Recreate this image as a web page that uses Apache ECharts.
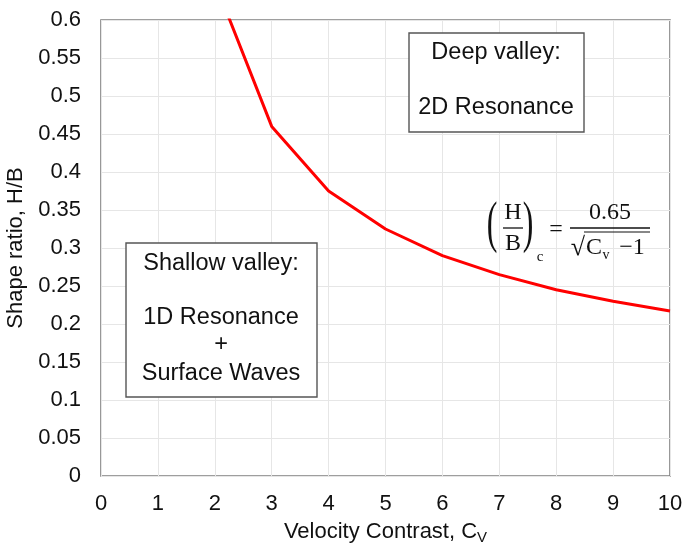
<!DOCTYPE html>
<html>
<head>
<meta charset="utf-8">
<script src="https://cdn.jsdelivr.net/npm/echarts@6/dist/echarts.min.js"></script>
<style>
  html, body { margin: 0; padding: 0; background: #fff; }
  #chart { width: 683px; height: 547px; }
</style>
</head>
<body>
<div id="chart"></div>
<script>
// Critical shape ratio versus velocity contrast
const velocityContrast = [2, 3, 4, 5, 6, 7, 8, 9, 10];
const shapeRatio = [0.65, 0.46, 0.375, 0.325, 0.29, 0.265, 0.245, 0.23, 0.217];

const xTicks = { min: 0, max: 10, interval: 1 };
const yTicks = { min: 0, max: 0.6, interval: 0.05 };

const FONT = '"Liberation Sans", Arial, sans-serif';
const SERIF = '"Liberation Serif", "Times New Roman", serif';

const chart = echarts.init(document.getElementById('chart'));

// Helpers for the formula glyphs
function t(x, y, text, size, extra) {
  return Object.assign({
    type: 'text', x: x, y: y, z: 20,
    style: { text: text, font: size + 'px ' + SERIF, fill: '#111',
      align: 'center', verticalAlign: 'middle' }
  }, extra || {});
}
function line(x1, y1, x2, y2, w) {
  return { type: 'line', z: 20, shape: { x1: x1, y1: y1, x2: x2, y2: y2 },
    style: { stroke: '#111', lineWidth: w || 1.3 } };
}

const boxText = (x, y, text) => ({
  type: 'text', x: x, y: y, z: 20,
  style: { text: text, font: '23.5px ' + FONT, fill: '#111', align: 'center', verticalAlign: 'middle' }
});

chart.setOption({
  animation: false,
  backgroundColor: '#fff',
  grid: {
    left: 101, right: 13, top: 20, bottom: 71,
    containLabel: false,
    outerBoundsMode: 'none',
    show: true, borderColor: '#7f7f7f', borderWidth: 1.6
  },
  xAxis: {
    type: 'value',
    min: xTicks.min, max: xTicks.max, interval: xTicks.interval,
    axisLine: { show: false },
    axisTick: { show: false },
    splitLine: { show: true, lineStyle: { color: '#e6e6e6', width: 1 } },
    axisLabel: { color: '#111', fontSize: 22, fontFamily: FONT, margin: 17 },
    name: 'Velocity Contrast, C{sub|V}',
    nameLocation: 'middle',
    nameGap: 43,
    nameTextStyle: {
      color: '#111', fontSize: 22, fontFamily: FONT,
      rich: { sub: { fontSize: 15, fontFamily: FONT, color: '#111', padding: [11, 0, 0, 0] } }
    }
  },
  yAxis: {
    type: 'value',
    min: yTicks.min, max: yTicks.max, interval: yTicks.interval,
    axisLine: { show: false },
    axisTick: { show: false },
    splitLine: { show: true, lineStyle: { color: '#e6e6e6', width: 1 } },
    axisLabel: { color: '#111', fontSize: 22, fontFamily: FONT, margin: 20,
      formatter: v => String(Math.round(v * 100) / 100) },
    name: 'Shape ratio, H/B',
    nameLocation: 'middle',
    nameGap: 67,
    nameTextStyle: { color: '#111', fontSize: 22, fontFamily: FONT }
  },
  series: [{
    type: 'line',
    data: velocityContrast.map((v, i) => [v, shapeRatio[i]]),
    showSymbol: false,
    clip: true,
    lineStyle: { color: '#ff0000', width: 3 },
    z: 5
  }],
  graphic: [
    // Deep valley box
    { type: 'rect', z: 15, shape: { x: 409, y: 33, width: 175, height: 99 },
      style: { fill: '#fff', stroke: '#555', lineWidth: 1.4 } },
    boxText(496, 53, 'Deep valley:'),
    boxText(496, 108, '2D Resonance'),
    // Shallow valley box
    { type: 'rect', z: 15, shape: { x: 126, y: 243, width: 191, height: 154 },
      style: { fill: '#fff', stroke: '#555', lineWidth: 1.4 } },
    boxText(221, 264, 'Shallow valley:'),
    boxText(221, 318, '1D Resonance'),
    boxText(221, 345, '+'),
    boxText(221, 374, 'Surface Waves'),
    // Formula (H/B)_c = 0.65 / sqrt(Cv - 1); tall thin brackets are narrowed glyphs
    t(492, 226, '(', 58, { scaleX: 0.55, originX: 0, originY: 0 }),
    t(528, 226, ')', 58, { scaleX: 0.55, originX: 0, originY: 0 }),
    t(513, 213, 'H', 24),
    line(503, 228, 523, 228),
    t(513, 244, 'B', 24),
    t(540, 257, 'c', 15),
    t(556, 230, '=', 24),
    t(610, 213, '0.65', 24),
    line(570, 228, 650, 228),
    t(578, 248, '\u221A', 26),
    line(584, 232, 650, 232, 1.2),
    t(594, 248, 'C', 24),
    t(606, 255, 'v', 14),
    t(632, 248, '\u22121', 24)
  ]
});
</script>
</body>
</html>
